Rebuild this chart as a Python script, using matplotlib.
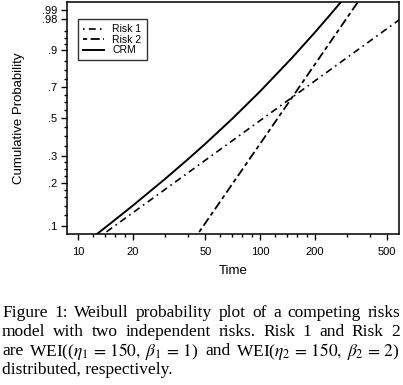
import numpy as np
import matplotlib
matplotlib.use('Agg')
import matplotlib.pyplot as plt

# values (time, cumulative probability)
risk1_time = [8, 100, 600]
risk1_prob = [0.0519, 0.4866, 0.9817]
risk2_time = [40, 150, 400]
risk2_prob = [0.0686, 0.6321, 0.9992]
crm_time = [10, 12, 15, 20, 30, 40, 50, 70, 100, 150, 200, 250, 300]
crm_prob = [0.0684, 0.0828, 0.1042, 0.1402, 0.2134, 0.2867, 0.3588,
            0.4956, 0.6708, 0.8647, 0.9555, 0.9883, 0.9975]

xticks = [10, 20, 50, 100, 200, 500]
xminor = [12, 14, 16, 18, 30, 40, 60, 70, 80, 90, 120, 140, 160, 180, 300, 400]
yticks = [0.1, 0.2, 0.3, 0.5, 0.7, 0.9, 0.98, 0.99]
ylabels = ['.1', '.2', '.3', '.5', '.7', '.9', '.98', '.99']
yminor = [0.12, 0.14, 0.16, 0.18, 0.225, 0.25, 0.275, 0.35, 0.4, 0.45,
          0.55, 0.6, 0.65, 0.75, 0.8, 0.85, 0.92, 0.94, 0.96]

caption = [
    "Figure 1: Weibull probability plot of a competing risks",
    "model with two independent risks.  Risk 1 and Risk 2",
    r"are WEI(($\eta_1\,=\,150,\;\beta_1\,=\,1$) and WEI($\eta_2\,=\,150,\;\beta_2\,=\,2$)",
    "distributed, respectively.",
]

plt.rcParams['font.family'] = 'Liberation Sans'
plt.rcParams['mathtext.fontset'] = 'stix'
plt.rcParams['lines.scale_dashes'] = False


def wfwd(p):
    p = np.clip(np.asarray(p, dtype=float), 1e-9, 1 - 1e-12)
    return np.log(-np.log(1 - p))


def winv(y):
    return 1 - np.exp(-np.exp(y))


fig = plt.figure(figsize=(4.03, 3.85), dpi=100)
ax = fig.add_axes([0.1655, 0.392, 0.8245, 0.6028])

ax.plot(risk1_time, risk1_prob, color='black', lw=1.2,
        linestyle=(0, (1.2, 3, 5, 3)), label='Risk 1')
ax.plot(risk2_time, risk2_prob, color='black', lw=1.3,
        linestyle=(0, (3, 2.5, 6.5, 2.5)), label='Risk 2')
ax.plot(crm_time, crm_prob, color='black', lw=1.4, label='CRM')

ax.set_xscale('log')
ax.set_yscale('function', functions=(wfwd, winv))
ax.set_xlim(8.64, 580)
ax.set_ylim(0.0875, 0.995)

ax.set_xticks(xticks, [str(v) for v in xticks])
ax.set_xticks(xminor, minor=True)
ax.xaxis.set_minor_formatter(matplotlib.ticker.NullFormatter())
ax.set_yticks(yticks, ylabels)
ax.set_yticks(yminor, minor=True)
ax.yaxis.set_minor_formatter(matplotlib.ticker.NullFormatter())

ax.tick_params(which='major', direction='out', length=4, width=1, labelsize=8)
ax.tick_params(which='minor', direction='out', length=2.5, width=1)
ax.tick_params(axis='x', pad=5)
ax.tick_params(axis='y', pad=3)
for s in ax.spines.values():
    s.set_linewidth(1.1)

ax.set_xlabel('Time', fontsize=9.5, labelpad=6)
ax.set_ylabel('Cumulative Probability', fontsize=9.5, labelpad=12)

leg = ax.legend(loc='upper left', bbox_to_anchor=(0.034, 0.927),
                borderaxespad=0, fontsize=7.5, fancybox=False, frameon=True,
                edgecolor='black', handlelength=2.0, handletextpad=0.8,
                labelspacing=0.05, borderpad=0.5)
leg.get_frame().set_linewidth(1.0)

# caption, justified line by line
renderer = fig.canvas.get_renderer()
x0, x1 = 2 / 403, 400 / 403
ys = [313, 332, 351, 370]
for i, line in enumerate(caption):
    y = 1 - ys[i] / 385
    if i == len(caption) - 1:
        fig.text(x0, y, line, fontsize=12.5, family='Liberation Serif', va='center')
        continue
    # split into tokens, keeping math spans together
    parts = line.split('$')
    tokens = []
    for j, p in enumerate(parts):
        if j % 2 == 1:
            tokens[-1] = tokens[-1] + '$' + p + '$'
        else:
            words = p.split(' ')
            if j > 0 and words and words[0] != '':
                tokens[-1] = tokens[-1] + words[0]
                words = words[1:]
            elif j > 0 and words and words[0] == '':
                words = words[1:]
            tokens.extend([w for w in words if w != ''])
    texts = [fig.text(0, y, t, fontsize=12.5, family='Liberation Serif', va='center')
             for t in tokens]
    widths = [t.get_window_extent(renderer).width / fig.bbox.width for t in texts]
    gap = (x1 - x0 - sum(widths)) / (len(texts) - 1)
    x = x0
    for t, w in zip(texts, widths):
        t.set_x(x)
        x += w + gap

fig.savefig('out.png', dpi=100)
